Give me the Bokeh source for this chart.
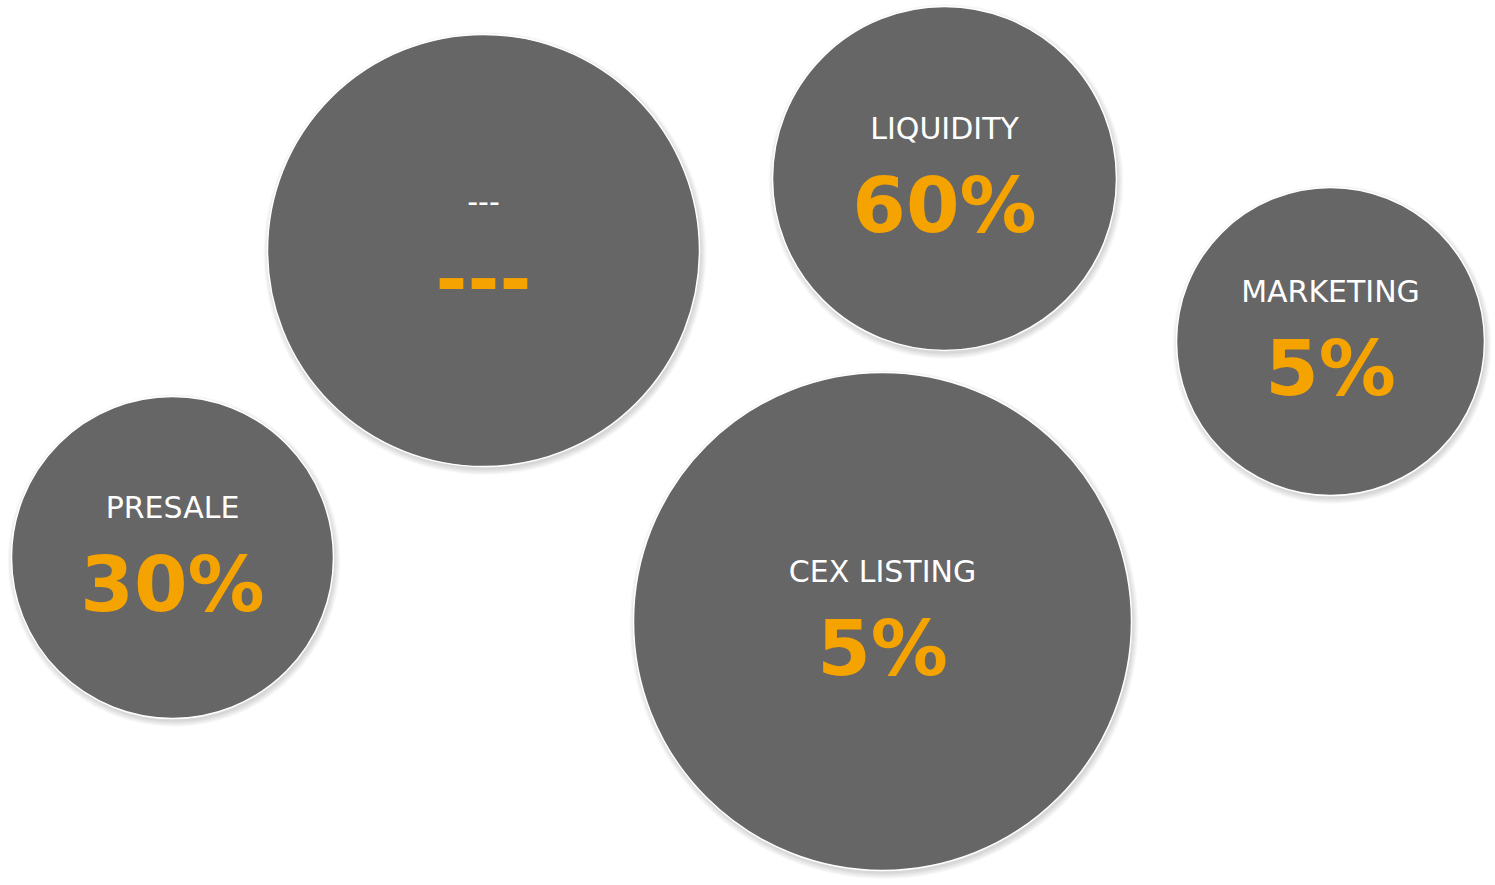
from bokeh.plotting import figure
from bokeh.models import Range1d, ColumnDataSource
from bokeh.core.properties import value
from bokeh.embed import file_html
from bokeh.resources import INLINE

# data
labels = ["---", "LIQUIDITY", "MARKETING", "PRESALE", "CEX LISTING"]
values = ["---", "60%", "5%", "30%", "5%"]

# layout (pixel positions / radii of bubbles)
cx = [483, 944, 1330, 172, 882]
cy = [250, 178, 341, 557, 621]
rad = [216, 172, 154, 161, 249]

W, H = 1495, 885
p = figure(width=W, height=H, x_range=Range1d(0, W), y_range=Range1d(H, 0),
           output_backend="svg", toolbar_location=None, min_border=0)
p.axis.visible = False
p.grid.visible = False
p.outline_line_color = None
p.background_fill_color = "white"
p.border_fill_color = "white"

# soft shadows
for i in range(8):
    src = ColumnDataSource(dict(x=[x + 1.5 for x in cx], y=[y + 3 for y in cy],
                                r=[r + i * 0.8 for r in rad]))
    p.circle("x", "y", radius="r", source=src, fill_color="black",
             fill_alpha=0.018, line_color=None)

src = ColumnDataSource(dict(x=cx, y=cy, r=rad, label=labels, val=values,
                            ly=[y - 50 for y in cy], vy=[y + 27 for y in cy]))
p.circle("x", "y", radius="r", source=src, fill_color="#666666",
         line_color="white", line_width=1.5)

p.text("x", "ly", text="label", source=src, text_color="white",
       text_font=value("DejaVu Sans"), text_font_size="30px",
       text_align="center", text_baseline="middle")
p.text("x", "vy", text="val", source=src, text_color="#F5A300",
       text_font=value("DejaVu Sans"), text_font_style="bold",
       text_font_size="77px", text_align="center", text_baseline="middle")

open("out.html", "w").write(file_html(p, INLINE))
